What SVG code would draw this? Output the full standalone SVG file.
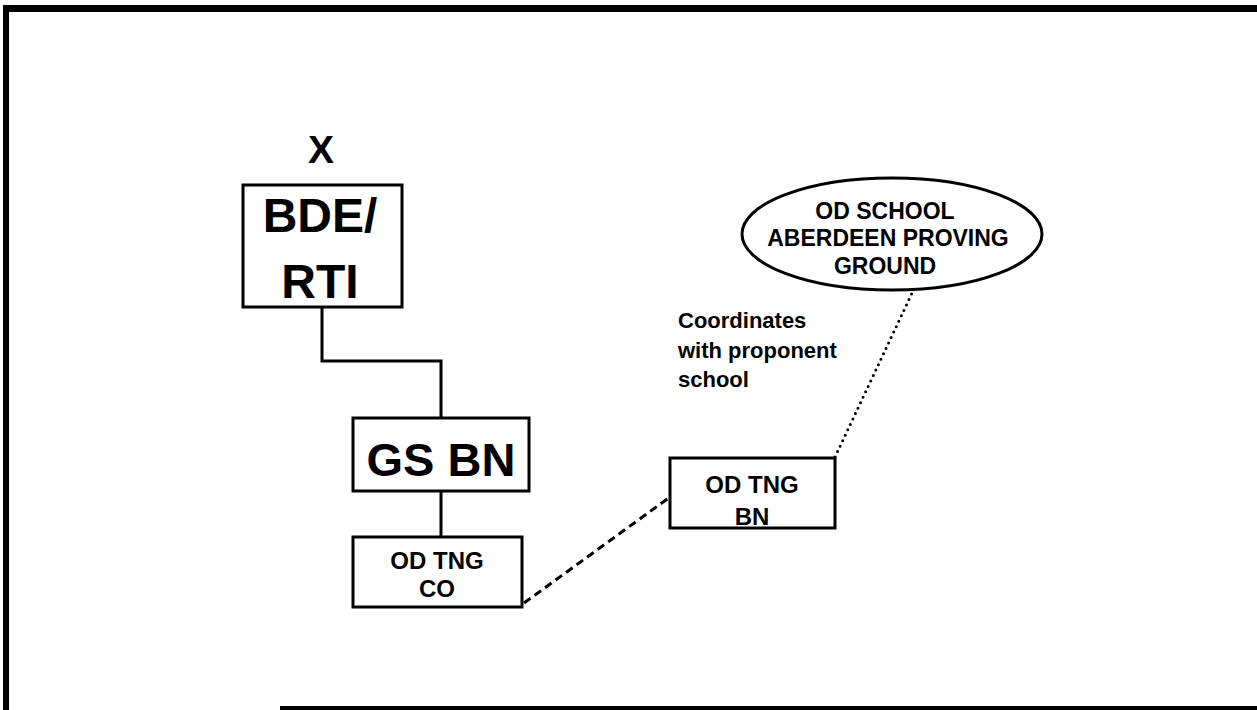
<svg xmlns="http://www.w3.org/2000/svg" width="1257" height="710" viewBox="0 0 1257 710">
<style>
.box{fill:#fff;stroke:#000;stroke-width:3}
.t{font-family:"Liberation Sans",Arial,sans-serif;font-weight:bold;fill:#000;text-anchor:middle}
.lbl{font-family:"Liberation Sans",Arial,sans-serif;font-weight:bold;fill:#000;font-size:22px}
.solid{fill:none;stroke:#000;stroke-width:3}
</style>
<rect width="1257" height="710" fill="#fff"/>
<g id="frame">
<rect x="3" y="5" width="1254" height="7" fill="#000"/>
<rect x="3" y="5" width="6" height="705" fill="#000"/>
<rect x="280" y="706" width="977" height="4" fill="#000"/>
</g>
<g id="connectors">
<polyline class="solid" points="322,307 322,361 441,361 441,418"/>
<line class="solid" x1="441" y1="492" x2="441" y2="537"/>
<line x1="524" y1="603" x2="670" y2="497" stroke="#000" stroke-width="3" stroke-dasharray="8,5"/>
<line x1="835" y1="457" x2="913" y2="291" stroke="#000" stroke-width="3" stroke-dasharray="0,6" stroke-linecap="round"/>
</g>
<g id="x-label"><text class="t" x="321" y="163" font-size="39">X</text></g>
<g id="bde-rti">
<rect class="box" x="243" y="185" width="159" height="122"/>
<text class="t" x="320" y="232" font-size="48">BDE/</text>
<text class="t" x="320" y="298" font-size="48">RTI</text>
</g>
<g id="gs-bn">
<rect class="box" x="353" y="418" width="176" height="73"/>
<text class="t" x="441" y="476" font-size="47">GS BN</text>
</g>
<g id="od-tng-co">
<rect class="box" x="353" y="537" width="169" height="70"/>
<text class="t" x="437" y="569" font-size="24">OD TNG</text>
<text class="t" x="437" y="597" font-size="24">CO</text>
</g>
<g id="od-tng-bn">
<rect class="box" x="670" y="458" width="165" height="70"/>
<text class="t" x="752" y="493" font-size="24">OD TNG</text>
<text class="t" x="752" y="525" font-size="24">BN</text>
</g>
<g id="od-school">
<ellipse class="box" cx="892" cy="234" rx="150" ry="56"/>
<text class="t" x="885" y="219" font-size="23">OD SCHOOL</text>
<text class="t" x="888" y="246" font-size="23">ABERDEEN PROVING</text>
<text class="t" x="885" y="274" font-size="23">GROUND</text>
</g>
<g id="coord-label">
<text class="lbl" x="678" y="328">Coordinates</text>
<text class="lbl" x="678" y="358">with proponent</text>
<text class="lbl" x="678" y="387">school</text>
</g>
</svg>
